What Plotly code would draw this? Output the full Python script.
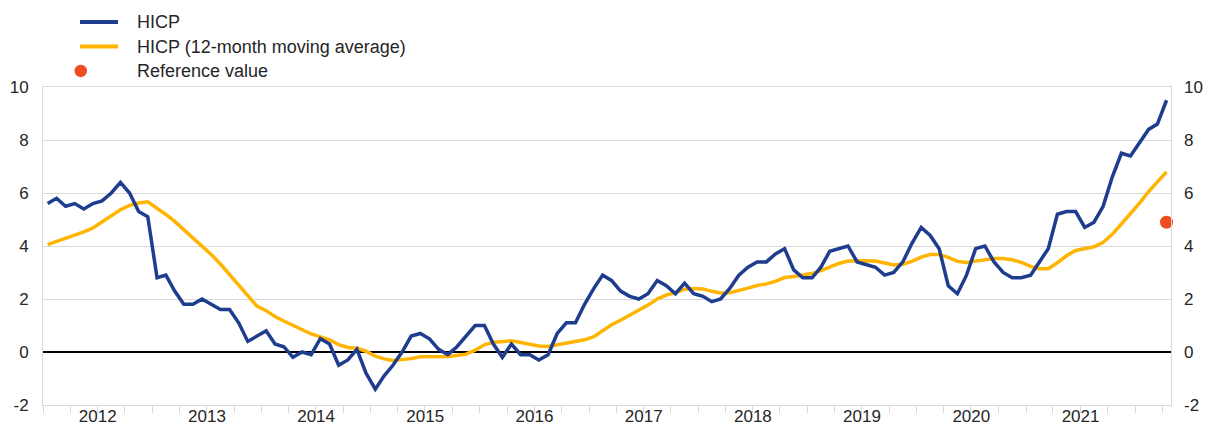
import pandas as pd
import plotly.graph_objects as go

# ---------------- data ----------------
months = pd.date_range("2012-01-01", "2022-04-01", freq="MS").strftime("%Y-%m").tolist()

hicp = [
    5.6, 5.8, 5.5, 5.6, 5.4, 5.6, 5.7, 6.0, 6.4, 6.0, 5.3, 5.1,      # 2012
    2.8, 2.9, 2.3, 1.8, 1.8, 2.0, 1.8, 1.6, 1.6, 1.1, 0.4, 0.6,      # 2013
    0.8, 0.3, 0.2, -0.2, 0.0, -0.1, 0.5, 0.3, -0.5, -0.3, 0.1, -0.8, # 2014
    -1.4, -0.9, -0.5, 0.0, 0.6, 0.7, 0.5, 0.1, -0.1, 0.2, 0.6, 1.0,  # 2015
    1.0, 0.3, -0.2, 0.3, -0.1, -0.1, -0.3, -0.1, 0.7, 1.1, 1.1, 1.8, # 2016
    2.4, 2.9, 2.7, 2.3, 2.1, 2.0, 2.2, 2.7, 2.5, 2.2, 2.6, 2.2,      # 2017
    2.1, 1.9, 2.0, 2.4, 2.9, 3.2, 3.4, 3.4, 3.7, 3.9, 3.1, 2.8,      # 2018
    2.8, 3.2, 3.8, 3.9, 4.0, 3.4, 3.3, 3.2, 2.9, 3.0, 3.4, 4.1,      # 2019
    4.7, 4.4, 3.9, 2.5, 2.2, 2.9, 3.9, 4.0, 3.4, 3.0, 2.8, 2.8,      # 2020
    2.9, 3.4, 3.9, 5.2, 5.3, 5.3, 4.7, 4.9, 5.5, 6.6, 7.5, 7.4,      # 2021
    7.9, 8.4, 8.6, 9.5,                                              # 2022
]

hicp_ma = [
    4.05, 4.17, 4.28, 4.40, 4.53, 4.68, 4.90, 5.12, 5.37, 5.53, 5.62, 5.67,      # 2012
    5.43, 5.19, 4.93, 4.61, 4.31, 4.01, 3.68, 3.32, 2.92, 2.51, 2.10, 1.73,      # 2013
    1.56, 1.34, 1.17, 1.00, 0.85, 0.68, 0.57, 0.46, 0.28, 0.17, 0.14, 0.03,      # 2014
    -0.16, -0.26, -0.32, -0.30, -0.25, -0.18, -0.18, -0.20, -0.17, -0.13, -0.08, 0.07,  # 2015
    0.27, 0.37, 0.39, 0.42, 0.36, 0.29, 0.23, 0.21, 0.28, 0.35, 0.39, 0.46,      # 2016
    0.58, 0.79, 1.03, 1.20, 1.38, 1.56, 1.77, 2.00, 2.15, 2.24, 2.37, 2.40,      # 2017
    2.38, 2.29, 2.23, 2.24, 2.31, 2.41, 2.51, 2.57, 2.67, 2.81, 2.85, 2.90,      # 2018
    2.96, 3.07, 3.22, 3.34, 3.43, 3.45, 3.44, 3.43, 3.36, 3.28, 3.31, 3.42,      # 2019
    3.58, 3.68, 3.68, 3.57, 3.42, 3.38, 3.43, 3.49, 3.53, 3.53, 3.48, 3.38,      # 2020
    3.23, 3.14, 3.14, 3.37, 3.63, 3.83, 3.89, 3.97, 4.14, 4.44, 4.83, 5.22,      # 2021
    5.63, 6.05, 6.44, 6.80,                                                      # 2022
]

ref_month = ["2022-04"]
ref_value = [4.9]

y_ticks = [-2, 0, 2, 4, 6, 8, 10]
y_ticklabels = ["-2", "0", "2", "4", "6", "8", "10"]

legend_labels = ["HICP", "HICP (12-month moving average)", "Reference value"]

# ---------------- style ----------------
BLUE = "#1f3d8f"
YELLOW = "#ffb400"
RED = "#ef4d1f"
GRID = "#d9d9d9"
TEXT = "#262626"
FONT = "Arial, 'Liberation Sans', sans-serif"

W, H = 1208, 425
L, R, T, B = 43, 37, 87, 20
PW, PH = W - L - R, H - T - B


def px(x):
    return (x - L) / PW


def py(y):
    return (H - B - y) / PH


fig = go.Figure()
fig.add_trace(go.Scatter(
    x=months, y=hicp_ma, mode="lines", name=legend_labels[1],
    line=dict(color=YELLOW, width=3.5), xperiod="M1", xperiodalignment="middle",
    showlegend=False,
))
fig.add_trace(go.Scatter(
    x=months, y=hicp, mode="lines", name=legend_labels[0],
    line=dict(color=BLUE, width=3.5), xperiod="M1", xperiodalignment="middle",
    showlegend=False,
))
fig.add_trace(go.Scatter(
    x=ref_month, y=ref_value, mode="markers", name=legend_labels[2],
    marker=dict(color=RED, size=13), xperiod="M1", xperiodalignment="middle",
    yaxis="y2", cliponaxis=False, showlegend=False,
))

# ---------------- manual legend ----------------
shapes = [
    dict(type="line", xref="paper", yref="paper", x0=px(80), x1=px(118), y0=py(22), y1=py(22),
         line=dict(color=BLUE, width=4)),
    dict(type="line", xref="paper", yref="paper", x0=px(80), x1=px(118), y0=py(46.5), y1=py(46.5),
         line=dict(color=YELLOW, width=4)),
    dict(type="circle", xref="paper", yref="paper", x0=px(74.5), x1=px(87), y0=py(77.2), y1=py(64.7),
         fillcolor=RED, line=dict(color=RED, width=0)),
]
annotations = []
for lbl, yy in zip(legend_labels, [22, 46.5, 71]):
    annotations.append(dict(
        text=lbl, xref="paper", yref="paper", x=px(135), y=py(yy),
        xanchor="left", yanchor="middle", showarrow=False,
        font=dict(family=FONT, size=18, color=TEXT),
    ))

fig.update_layout(
    template="none",
    width=W, height=H,
    margin=dict(l=L, r=R, t=T, b=B, pad=0, autoexpand=False),
    paper_bgcolor="white", plot_bgcolor="white",
    font=dict(family=FONT, size=17, color=TEXT),
    showlegend=False,
    shapes=shapes,
    annotations=annotations,
    xaxis=dict(
        type="date", range=["2012-01-01", "2022-05-01"], automargin=False,
        dtick="M12", tick0="2012-01-01", tickformat="%Y", ticklabelmode="period",
        ticks="outside", ticklen=7, tickcolor=GRID, tickwidth=1,
        ticklabelstandoff=-11,
        showgrid=False, showline=True, linecolor=GRID, linewidth=1, mirror=True,
        zeroline=False,
        tickfont=dict(family=FONT, size=17, color=TEXT),
        minor=dict(dtick="M3", tick0="2012-01-01", ticks="outside", ticklen=7,
                   tickcolor=GRID, tickwidth=1, showgrid=False),
    ),
    yaxis=dict(
        range=[-2, 10], tickmode="array", tickvals=y_ticks, ticktext=y_ticklabels,
        automargin=False,
        showgrid=True, gridcolor=GRID, gridwidth=1,
        zeroline=True, zerolinecolor="#000000", zerolinewidth=2,
        showline=True, linecolor=GRID, linewidth=1, mirror=True,
        ticks="", ticklabelstandoff=10,
        tickfont=dict(family=FONT, size=17, color=TEXT),
    ),
    yaxis2=dict(
        overlaying="y", side="right", range=[-2, 10], automargin=False,
        tickmode="array", tickvals=y_ticks, ticktext=y_ticklabels,
        showgrid=False, zeroline=False, showline=False, ticks="",
        ticklabelstandoff=12,
        tickfont=dict(family=FONT, size=17, color=TEXT),
    ),
)

fig.write_html(
    "out.html",
    config={"displayModeBar": False},
    post_script="document.body.style.margin='0px';document.body.style.padding='0px';",
)
